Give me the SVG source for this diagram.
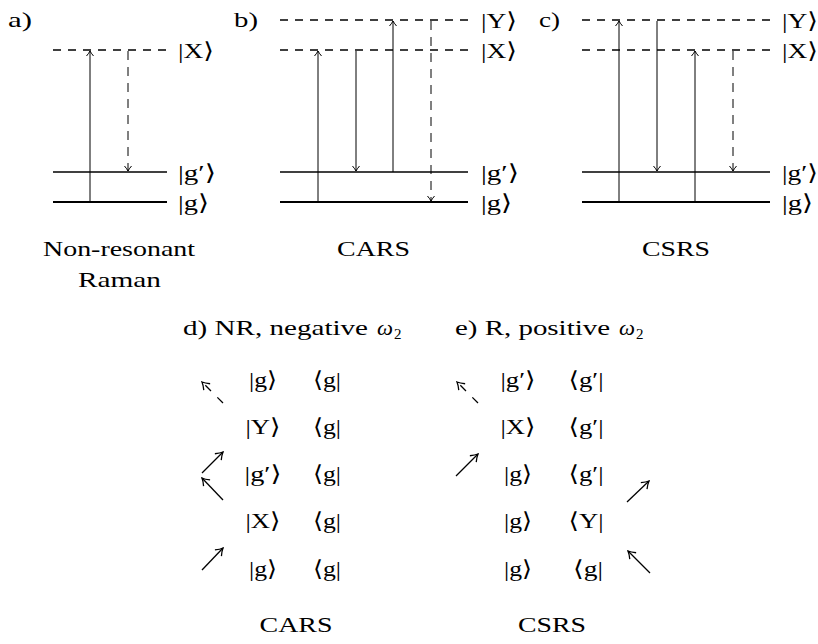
<svg xmlns="http://www.w3.org/2000/svg" width="818" height="644" viewBox="0 0 818 644">
<defs>
<marker id="ah" viewBox="-7 -5 8 10" markerWidth="8" markerHeight="10" refX="0" refY="0" orient="auto" markerUnits="userSpaceOnUse">
<path d="M-5,-3.5 Q-2,-1 0,0 Q-2,1 -5,3.5" fill="none" stroke="#000" stroke-width="1"/>
</marker>
<marker id="ahb" viewBox="-9 -6 10 12" markerWidth="10" markerHeight="12" refX="0" refY="0" orient="auto" markerUnits="userSpaceOnUse">
<path d="M-7,-4.5 Q-3,-1.2 0,0 Q-3,1.2 -7,4.5" fill="none" stroke="#000" stroke-width="1.3"/>
</marker>
<style>
.t{font-family:"Liberation Serif","Times New Roman","DejaVu Serif",serif;font-size:22px;fill:#000}
.m{text-anchor:middle}
.i{font-style:italic}
.s{font-size:15px}
.lv{stroke:#000;fill:none}
.gp{stroke-width:1.6}
.g{stroke-width:2.2}
.vd{stroke-width:1.5;stroke-dasharray:8 7}
.ar{stroke:#000;stroke-width:1;fill:none;marker-end:url(#ah)}
.ad{stroke-dasharray:9 7}
.br{stroke:#000;stroke-width:1.3;fill:none;marker-end:url(#ahb)}
.bd{stroke-dasharray:8 9}
</style>
</defs>

<g id="panel-a">
<text class="t" x="8" y="27" textLength="24" lengthAdjust="spacingAndGlyphs">a)</text>
<g id="a-levels">
<line class="lv vd" x1="53" y1="50" x2="167" y2="50"/>
<line class="lv gp" x1="53" y1="172" x2="167" y2="172"/>
<line class="lv g" x1="53" y1="202" x2="167" y2="202"/>
</g>
<g id="a-labels">
<text class="t" x="178" y="58" textLength="36" lengthAdjust="spacingAndGlyphs">|X⟩</text>
<text class="t" x="178" y="180" textLength="38" lengthAdjust="spacingAndGlyphs">|g′⟩</text>
<text class="t" x="178" y="210" textLength="31" lengthAdjust="spacingAndGlyphs">|g⟩</text>
</g>
<g id="a-arrows">
<line class="ar" x1="90" y1="202" x2="90" y2="51"/>
<line class="ar ad" x1="128" y1="51" x2="128" y2="171"/>
</g>
<text class="t" x="43" y="256" textLength="152" lengthAdjust="spacingAndGlyphs">Non-resonant</text>
<text class="t" x="78" y="287" textLength="83" lengthAdjust="spacingAndGlyphs">Raman</text>
</g>

<g id="panel-b">
<text class="t" x="234" y="27" textLength="24" lengthAdjust="spacingAndGlyphs">b)</text>
<g id="b-levels">
<line class="lv vd" x1="280" y1="20" x2="468" y2="20"/>
<line class="lv vd" x1="280" y1="50" x2="468" y2="50"/>
<line class="lv gp" x1="280" y1="172" x2="468" y2="172"/>
<line class="lv g" x1="280" y1="202" x2="468" y2="202"/>
</g>
<g id="b-labels">
<text class="t" x="481" y="28" textLength="36" lengthAdjust="spacingAndGlyphs">|Y⟩</text>
<text class="t" x="481" y="58" textLength="36" lengthAdjust="spacingAndGlyphs">|X⟩</text>
<text class="t" x="481" y="180" textLength="38" lengthAdjust="spacingAndGlyphs">|g′⟩</text>
<text class="t" x="481" y="210" textLength="31" lengthAdjust="spacingAndGlyphs">|g⟩</text>
</g>
<g id="b-arrows">
<line class="ar" x1="318" y1="202" x2="318" y2="51"/>
<line class="ar" x1="356" y1="51" x2="356" y2="171"/>
<line class="ar" x1="393" y1="172" x2="393" y2="21"/>
<line class="ar ad" x1="431" y1="21" x2="431" y2="201"/>
</g>
<text class="t" x="337" y="256" textLength="73" lengthAdjust="spacingAndGlyphs">CARS</text>
</g>

<g id="panel-c">
<text class="t" x="539" y="27" textLength="21" lengthAdjust="spacingAndGlyphs">c)</text>
<g id="c-levels">
<line class="lv vd" x1="582" y1="20" x2="770" y2="20"/>
<line class="lv vd" x1="582" y1="50" x2="770" y2="50"/>
<line class="lv gp" x1="582" y1="172" x2="770" y2="172"/>
<line class="lv g" x1="582" y1="202" x2="770" y2="202"/>
</g>
<g id="c-labels">
<text class="t" x="782" y="28" textLength="36" lengthAdjust="spacingAndGlyphs">|Y⟩</text>
<text class="t" x="782" y="58" textLength="36" lengthAdjust="spacingAndGlyphs">|X⟩</text>
<text class="t" x="782" y="180" textLength="36" lengthAdjust="spacingAndGlyphs">|g′⟩</text>
<text class="t" x="782" y="210" textLength="31" lengthAdjust="spacingAndGlyphs">|g⟩</text>
</g>
<g id="c-arrows">
<line class="ar" x1="619" y1="202" x2="619" y2="21"/>
<line class="ar" x1="657" y1="21" x2="657" y2="171"/>
<line class="ar" x1="695" y1="202" x2="695" y2="51"/>
<line class="ar ad" x1="733" y1="51" x2="733" y2="171"/>
</g>
<text class="t" x="642" y="256" textLength="68" lengthAdjust="spacingAndGlyphs">CSRS</text>
</g>

<g id="panel-d">
<text class="t" x="183" y="335" textLength="185" lengthAdjust="spacingAndGlyphs">d) NR, negative</text>
<text class="t i" x="377" y="335" textLength="16" lengthAdjust="spacingAndGlyphs">ω</text>
<text class="t s" x="394" y="339">2</text>
<g id="d-kets">
<text class="t m" x="263" y="387" textLength="28" lengthAdjust="spacingAndGlyphs">|g⟩</text>
<text class="t m" x="327" y="387" textLength="28" lengthAdjust="spacingAndGlyphs">⟨g|</text>
<text class="t m" x="263" y="434" textLength="35" lengthAdjust="spacingAndGlyphs">|Y⟩</text>
<text class="t m" x="327" y="434" textLength="28" lengthAdjust="spacingAndGlyphs">⟨g|</text>
<text class="t m" x="263" y="481" textLength="37" lengthAdjust="spacingAndGlyphs">|g′⟩</text>
<text class="t m" x="327" y="481" textLength="28" lengthAdjust="spacingAndGlyphs">⟨g|</text>
<text class="t m" x="263" y="528" textLength="35" lengthAdjust="spacingAndGlyphs">|X⟩</text>
<text class="t m" x="327" y="528" textLength="28" lengthAdjust="spacingAndGlyphs">⟨g|</text>
<text class="t m" x="263" y="576" textLength="28" lengthAdjust="spacingAndGlyphs">|g⟩</text>
<text class="t m" x="327" y="576" textLength="28" lengthAdjust="spacingAndGlyphs">⟨g|</text>
</g>
<g id="d-arrows">
<line class="br bd" x1="223" y1="403" x2="202" y2="382"/>
<line class="br" x1="202" y1="473" x2="223" y2="452"/>
<line class="br" x1="223" y1="500" x2="202" y2="478"/>
<line class="br" x1="202" y1="570" x2="223" y2="548"/>
</g>
<text class="t m" x="296" y="632" textLength="73" lengthAdjust="spacingAndGlyphs">CARS</text>
</g>

<g id="panel-e">
<text class="t" x="455" y="335" textLength="155" lengthAdjust="spacingAndGlyphs">e) R, positive</text>
<text class="t i" x="619" y="335" textLength="16" lengthAdjust="spacingAndGlyphs">ω</text>
<text class="t s" x="636" y="339">2</text>
<g id="e-kets">
<text class="t m" x="518" y="387" textLength="35" lengthAdjust="spacingAndGlyphs">|g′⟩</text>
<text class="t m" x="586" y="387" textLength="35" lengthAdjust="spacingAndGlyphs">⟨g′|</text>
<text class="t m" x="518" y="434" textLength="35" lengthAdjust="spacingAndGlyphs">|X⟩</text>
<text class="t m" x="586" y="434" textLength="35" lengthAdjust="spacingAndGlyphs">⟨g′|</text>
<text class="t m" x="518" y="481" textLength="28" lengthAdjust="spacingAndGlyphs">|g⟩</text>
<text class="t m" x="586" y="481" textLength="35" lengthAdjust="spacingAndGlyphs">⟨g′|</text>
<text class="t m" x="518" y="528" textLength="28" lengthAdjust="spacingAndGlyphs">|g⟩</text>
<text class="t m" x="586" y="528" textLength="35" lengthAdjust="spacingAndGlyphs">⟨Y|</text>
<text class="t m" x="518" y="576" textLength="28" lengthAdjust="spacingAndGlyphs">|g⟩</text>
<text class="t m" x="588" y="576" textLength="30" lengthAdjust="spacingAndGlyphs">⟨g|</text>
</g>
<g id="e-arrows">
<line class="br bd" x1="478" y1="403" x2="457" y2="382"/>
<line class="br" x1="456" y1="476" x2="478" y2="454"/>
<line class="br" x1="627" y1="502" x2="649" y2="481"/>
<line class="br" x1="650" y1="573" x2="628" y2="551"/>
</g>
<text class="t m" x="552" y="632" textLength="68" lengthAdjust="spacingAndGlyphs">CSRS</text>
</g>
</svg>
